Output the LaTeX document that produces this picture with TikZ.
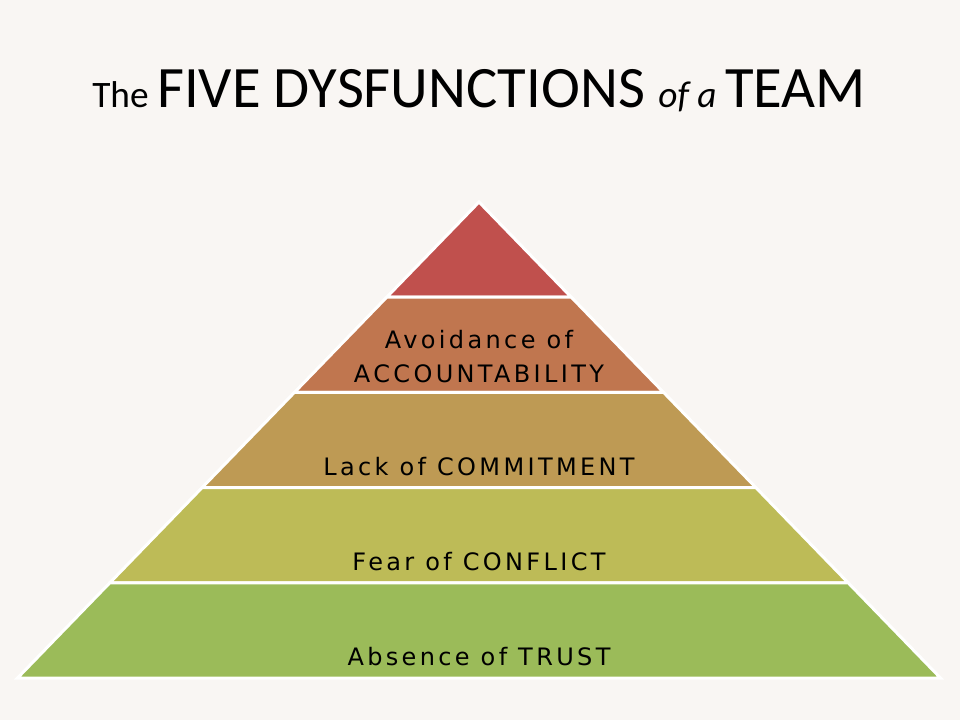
\documentclass[tikz,border=0pt]{standalone}
\usepackage{fontspec}
\usepackage{xcolor}
\usepackage{tikz}
\usetikzlibrary{calc}
\setmainfont{Carlito}
\newfontfamily\handfont[LetterSpace=14]{DejaVu Sans}
\definecolor{mybg}{rgb}{0.976,0.965,0.953}
\definecolor{myred}{rgb}{0.753,0.314,0.302}
\definecolor{myorange}{rgb}{0.753,0.463,0.310}
\definecolor{mytan}{rgb}{0.745,0.604,0.329}
\definecolor{myolive}{rgb}{0.741,0.733,0.341}
\definecolor{mygreen}{rgb}{0.608,0.733,0.349}

\begin{document}
\begin{tikzpicture}[x=0.75pt,y=-0.75pt,
layer/.style={draw=white, line width=2.25pt},
every node/.style={black, inner sep=0pt},
lbl/.style={anchor=base, font=\handfont\fontsize{18}{20}\selectfont}]
\fill[mybg] (0,0) rectangle (960,720);
\useasboundingbox (0,0) rectangle (960,720);
\coordinate (A) at (479, 202);
\coordinate (L) at (17.5, 678);
\coordinate (R) at (940.5, 678);
% layers from top to bottom
\draw[layer, fill=myred] (A) -- ($(A)!0.2!(R)$) -- ($(A)!0.2!(L)$) -- cycle;
\draw[layer, fill=myorange] ($(A)!0.2!(L)$) -- ($(A)!0.2!(R)$) -- ($(A)!0.4!(R)$) -- ($(A)!0.4!(L)$) -- cycle;
\draw[layer, fill=mytan] ($(A)!0.4!(L)$) -- ($(A)!0.4!(R)$) -- ($(A)!0.6!(R)$) -- ($(A)!0.6!(L)$) -- cycle;
\draw[layer, fill=myolive] ($(A)!0.6!(L)$) -- ($(A)!0.6!(R)$) -- ($(A)!0.8!(R)$) -- ($(A)!0.8!(L)$) -- cycle;
\draw[layer, fill=mygreen] ($(A)!0.8!(L)$) -- ($(A)!0.8!(R)$) -- (R) -- (L) -- cycle;
% labels
\node[lbl] (avoid) at (479, 348) {Avoidance of};
\node[lbl] (account) at (479, 382) {ACCOUNTABILITY};
\node[lbl] (commit) at (479, 475) {Lack of COMMITMENT};
\node[lbl] (conflict) at (479, 570) {Fear of CONFLICT};
\node[lbl] (trust) at (479, 665) {Absence of TRUST};
\node[anchor=base] (title) at (479, 108) {\fontsize{28}{32}\selectfont The
  \fontsize{44}{50}\selectfont FIVE DYSFUNCTIONS
  \fontsize{28}{32}\selectfont\itshape of a
  \fontsize{44}{50}\selectfont\upshape TEAM};
\end{tikzpicture}
\end{document}
